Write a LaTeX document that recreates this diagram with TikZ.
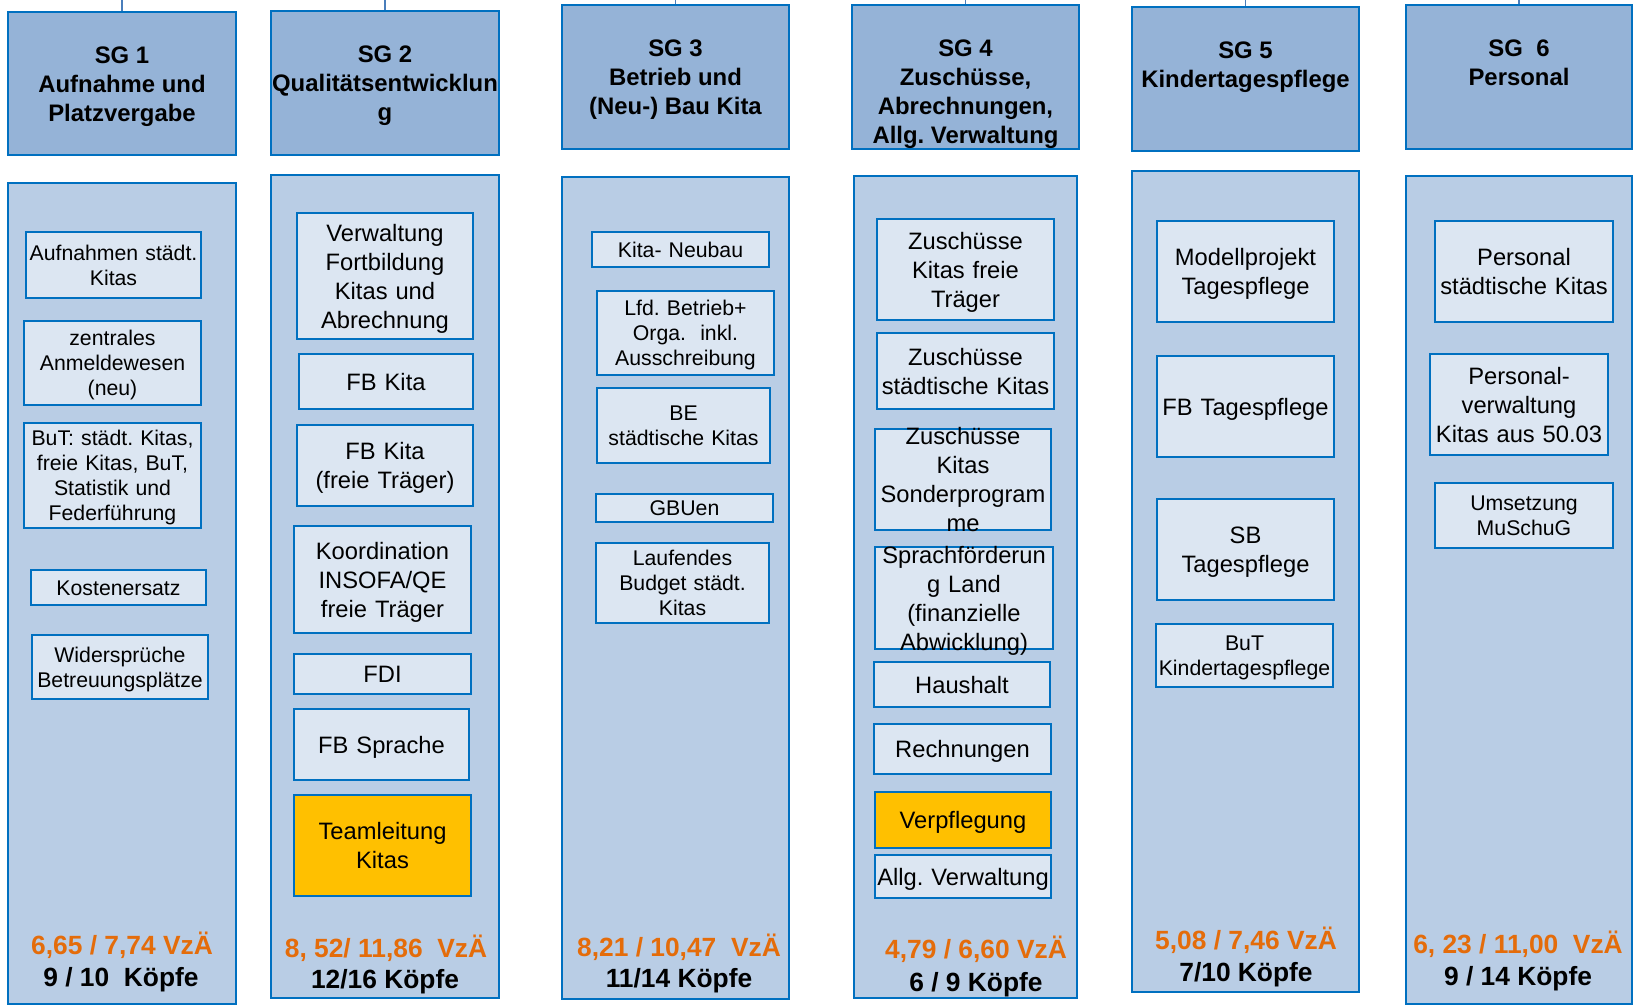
\documentclass[tikz,border=0pt]{standalone}
\usepackage{fontspec}
\setmainfont{Liberation Sans}
\usetikzlibrary{positioning}
\frenchspacing
\definecolor{sgline}{HTML}{0070C0}
\definecolor{sgstub}{HTML}{4A7EBB}
\definecolor{sghead}{HTML}{95B3D7}
\definecolor{sgpanel}{HTML}{B9CDE5}
\definecolor{sgbox}{HTML}{DCE6F2}
\definecolor{sgyellow}{HTML}{FFC000}
\definecolor{sgorange}{HTML}{E46C0A}
\newcommand{\linestrut}{\rule[-0.21em]{0pt}{1.16em}}
\tikzset{
  sz/.style 2 args={minimum width=#1*0.02cm, minimum height=#2*0.02cm, text width=#1*0.02cm},
  sgframe/.style={draw=sgline, line width=1.1pt, inner sep=0pt, align=center},
  head/.style={sgframe, fill=sghead},
  panel/.style={sgframe, fill=sgpanel},
  task/.style={sgframe, fill=sgbox, font=\fontsize{13.5}{16.5}\selectfont,
    execute at begin node=\linestrut, execute at end node=\linestrut},
  smalltask/.style={task, font=\fontsize{12.1}{14.2}\selectfont},
  lead/.style={task, fill=sgyellow},
  tasktext/.style={align=center, inner sep=0pt, font=\fontsize{13.5}{16.5}\selectfont,
    execute at begin node=\linestrut, execute at end node=\linestrut},
  headtext/.style={align=center, inner sep=0pt, font=\fontsize{13.6}{16.5}\selectfont\bfseries},
  vza/.style={inner sep=0pt, anchor=base, text=sgorange, font=\fontsize{15}{17}\selectfont\bfseries},
  kopf/.style={inner sep=0pt, anchor=base, font=\fontsize{15}{17}\selectfont\bfseries},
  stub/.style={draw=sgstub, line width=1.1pt},
}
\begin{document}
\begin{tikzpicture}[x=0.02cm, y=-0.02cm]
\useasboundingbox (0,0) rectangle (1634,1005);
\coordinate (top) at (0,0);

% Sachgebiete (Koepfe)
\node[head, sz={228}{143}] (h1) at (122,83.5) {};
\node[head, sz={228}{144}] (h2) at (385,83) {};
\node[head, sz={227}{144}] (h3) at (675.5,77) {};
\node[head, sz={227}{144}] (h4) at (965.5,77) {};
\node[head, sz={227}{144}] (h5) at (1245.5,79) {};
\node[head, sz={226}{144}] (h6) at (1519,77) {};

% Linien nach oben
\foreach \i in {1,...,6}{
  \coordinate (t\i) at (h\i.north |- top);
  \draw[stub] (t\i) -- (h\i);
}

\node[headtext, below=0.71cm of h1.north] (h1t) {SG 1\\Aufnahme und\\Platzvergabe};
\node[headtext, below=0.71cm of h2.north] (h2t) {SG 2\\Qualitätsentwicklun\\g};
\node[headtext, below=0.71cm of h3.north] (h3t) {SG 3\\Betrieb und\\(Neu-) Bau Kita};
\node[headtext, below=0.71cm of h4.north] (h4t) {SG 4\\Zuschüsse,\\Abrechnungen,\\Allg. Verwaltung};
\node[headtext, below=0.71cm of h5.north] (h5t) {SG 5\\Kindertagespflege};
\node[headtext, below=0.71cm of h6.north] (h6t) {SG\ \ 6\\Personal};

% Spalten
\node[panel, sz={228}{821}] (p1) at (122,593.5) {};
\node[panel, sz={228}{823}] (p2) at (385,586.5) {};
\node[panel, sz={227}{822}] (p3) at (675.5,588) {};
\node[panel, sz={223}{822}] (p4) at (965.5,587) {};
\node[panel, sz={227}{821}] (p5) at (1245.5,581.5) {};
\node[panel, sz={226}{828}] (p6) at (1519,590) {};

% SG 1
\node[smalltask, sz={175}{66}] (a1) at (113.5,265) {Aufnahmen städt.\\Kitas};
\node[smalltask, sz={177}{84}] (a2) at (112.5,363) {zentrales\\Anmeldewesen\\(neu)};
\node[smalltask, sz={177}{105}] (a3) at (112.5,475.5) {BuT: städt. Kitas,\\freie Kitas, BuT,\\Statistik und\\Federführung};
\node[smalltask, sz={175}{35}] (a4) at (118.5,587.5) {Kostenersatz};
\node[smalltask, sz={176}{64}] (a5) at (120,667) {Widersprüche\\Betreuungsplätze};

% SG 2
\node[task, sz={176}{126}] (b1) at (385,276) {Verwaltung\\Fortbildung\\Kitas und\\Abrechnung};
\node[task, sz={174}{55}] (b2) at (386,381.5) {FB Kita};
\node[task, sz={176}{81}] (b3) at (385,465.5) {FB Kita\\(freie Träger)};
\node[task, sz={177}{107}] (b4) at (382.5,579.5) {Koordination\\INSOFA/QE\\freie Träger};
\node[task, sz={177}{40}] (b5) at (382.5,674) {FDI};
\node[task, sz={175}{71}] (b6) at (381.5,744.5) {FB Sprache};
\node[lead, sz={177}{101}] (b7) at (382.5,845.5) {Teamleitung\\Kitas};

% SG 3
\node[smalltask, sz={177}{35}] (c1) at (680.5,249.5) {Kita- Neubau};
\node[smalltask, sz={177}{84}] (c2) at (685.5,333) {Lfd. Betrieb+\\Orga.\ \ inkl.\\Ausschreibung};
\node[smalltask, sz={173}{75}] (c3) at (683.5,425.5) {BE\\städtische Kitas};
\node[smalltask, sz={177}{28}] (c4) at (684.5,508) {GBUen};
\node[smalltask, sz={173}{80}] (c5) at (682.5,583) {Laufendes\\Budget städt.\\Kitas};

% SG 4
\node[task, sz={177}{101}] (d1) at (965.5,269.5) {Zuschüsse\\Kitas freie\\Träger};
\node[task, sz={177}{76}] (d2) at (965.5,371) {Zuschüsse\\städtische Kitas};
\node[task, sz={176}{101}] (d3) at (963,479.5) {};
\node[tasktext, text width=3.52cm] (d3t) at (d3) {Zuschüsse\\Kitas\\Sonderprogram\\me};
\node[task, sz={178}{102}] (d4) at (964,598) {};
\node[tasktext, text width=3.56cm] (d4t) at (d4) {Sprachförderun\\g Land\\(finanzielle\\Abwicklung)};
\node[task, sz={176}{45}] (d5) at (962,684.5) {Haushalt};
\node[task, sz={177}{50}] (d6) at (962.5,749) {Rechnungen};
\node[lead, sz={176}{56}] (d7) at (963,820) {Verpflegung};
\node[task, sz={176}{43}] (d8) at (963,876.5) {Allg. Verwaltung};

% SG 5
\node[task, sz={177}{101}] (e1) at (1245.5,271.5) {Modellprojekt\\Tagespflege};
\node[task, sz={177}{101}] (e2) at (1245.5,406.5) {FB Tagespflege};
\node[task, sz={177}{101}] (e3) at (1245.5,549.5) {SB\\Tagespflege};
\node[smalltask, sz={177}{63}] (e4) at (1244.5,655.5) {BuT\\Kindertagespflege};

% SG 6
\node[task, sz={178}{101}] (f1) at (1524,271.5) {Personal\\städtische Kitas};
\node[task, sz={178}{101}] (f2) at (1519,404.5) {Personal-\\verwaltung\\Kitas aus 50.03};
\node[smalltask, sz={178}{65}] (f3) at (1524,515.5) {Umsetzung\\MuSchuG};

% Stellen und Koepfe
\node[vza] (v1) at (122,954) {6,65 / 7,74 VzÄ};
\node[kopf] (k1) at (121,986) {9 / 10\ \ Köpfe};
\node[vza] (v2) at (386,957) {8, 52/ 11,86\ \ VzÄ};
\node[kopf] (k2) at (385,988) {12/16 Köpfe};
\node[vza] (v3) at (679,956) {8,21 / 10,47\ \ VzÄ};
\node[kopf] (k3) at (679,987) {11/14 Köpfe};
\node[vza] (v4) at (976,958) {4,79 / 6,60 VzÄ};
\node[kopf] (k4) at (976,991) {6 / 9 Köpfe};
\node[vza] (v5) at (1246,949) {5,08 / 7,46 VzÄ};
\node[kopf] (k5) at (1246,981) {7/10 Köpfe};
\node[vza] (v6) at (1518,953) {6, 23 / 11,00\ \ VzÄ};
\node[kopf] (k6) at (1518,985) {9 / 14 Köpfe};
\end{tikzpicture}
\end{document}
